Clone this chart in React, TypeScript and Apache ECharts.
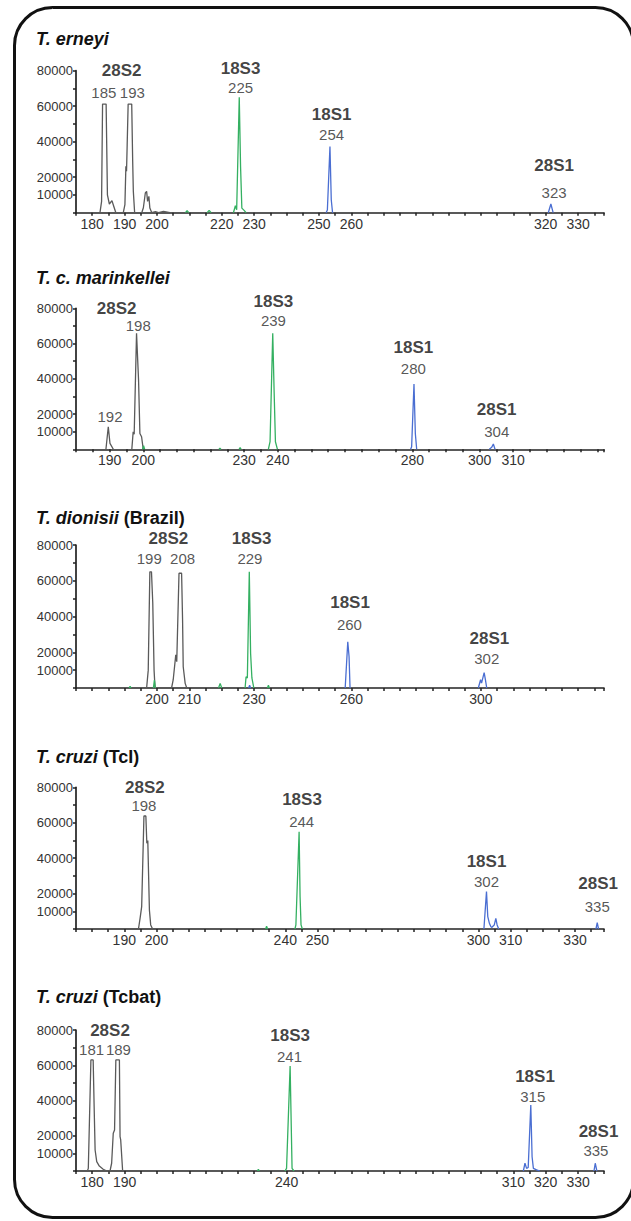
import React, { useEffect, useRef } from 'react';
import * as echarts from 'echarts';

const FONT = '"Liberation Sans", Arial, Helvetica, sans-serif';

// y-axis tick labels that are printed
const yTickLabels = [10000, 20000, 40000, 60000, 80000];

// printed x tick labels per panel
const erneyiTicks = [180, 190, 200, 220, 230, 250, 260, 320, 330];
const marinkelleiTicks = [190, 200, 230, 240, 280, 300, 310];
const dionisiiTicks = [200, 210, 230, 260, 300];
const tciTicks = [190, 200, 240, 250, 300, 310, 330];
const tcbatTicks = [180, 190, 240, 310, 320, 330];

// traces: [size, fluorescence]; null = gap
const erneyiGray = [
  [182.4, 0], [182.9, 6400], [183.2, 61200], [184.3, 61200], [184.7, 10100], [185.3, 4900], [186.1, 6800],
  [186.5, 4500], [187.3, 0], [189.6, 0], [190.1, 4500], [190.4, 26100], [190.6, 23300], [190.8, 38300],
  [191.1, 61200], [192.2, 61200], [192.5, 28900], [192.7, 12000], [193.1, 0], [195.3, 0], [195.8, 2800],
  [196.4, 11100], [196.8, 12000], [197.1, 6400], [197.5, 9200], [197.8, 2600], [198.4, 0], [199.5, 600],
  [200.5, 0], [202, 700], [204, 0],
];
const erneyiGreen = [
  [208.8, 0], [209.3, 1200], [209.8, 0], [212, null], [215.5, 0], [216.1, 1300], [216.7, 0], [220, null],
  [223.6, 0], [224.2, 3900], [224.6, 1700], [225.4, 65000], [225.8, 26100], [226.2, 2600], [226.9, 1300], [227.5, 0],
];
const erneyiBlue = [
  [252.2, 0], [252.6, 1500], [253.4, 37300], [253.8, 7300], [254.2, 0], [300, null],
  [320.8, 0], [321.6, 4900], [322.3, 0],
];

const marinkelleiGray = [
  [188.9, 0], [189.6, 12800], [190.1, 3400], [191.1, 0], [194, null], [196.6, 0], [197.0, 10000],
  [197.3, 8500], [198.0, 65800], [198.6, 39300], [199.0, 9000], [199.5, 7100], [200.0, 0],
];
const marinkelleiGreen = [
  [199.8, 0], [200.1, 2000], [200.4, 0], [210, null], [222.5, 0], [222.8, 700], [223.1, 0], [225, null],
  [228.5, 0], [228.8, 900], [229.1, 0], [232, null], [237.2, 0], [237.7, 4300], [238.5, 65800],
  [238.9, 33600], [239.3, 4300], [239.9, 0],
];
const marinkelleiBlue = [
  [279.5, 0], [279.8, 1500], [280.5, 37000], [280.9, 9000], [281.3, 0], [290, null],
  [302.9, 0], [303.6, 1100], [304.1, 3000], [304.6, 0],
];

const dionisiiGray = [
  [196.8, 0], [197.3, 10000], [197.8, 65000], [198.3, 65000], [198.7, 47400], [199.1, 10000], [199.4, 0],
  [202, null], [204.5, 0], [205.0, 4500], [205.8, 18500], [206.1, 14700], [206.8, 64200], [207.6, 64200],
  [207.9, 38000], [208.1, 11900], [208.7, 2600], [209.2, 0],
];
const dionisiiGreen = [
  [191.4, 0], [191.7, 1000], [192, 0], [195, null], [198.9, 0], [199.2, 4500], [199.5, 0], [203, null],
  [219, 0], [219.5, 2600], [220, 0], [224, null], [227.2, 0], [227.5, 6300], [227.9, 5600], [228.5, 65000],
  [228.9, 19400], [229.3, 5600], [229.9, 0], [232, null], [234.1, 0], [234.4, 1500], [234.7, 0],
];
const dionisiiBlue = [
  [228.3, 0], [228.6, 1500], [228.9, 0], [240, null],
  [258.1, 0], [258.9, 25900], [259.3, 17500], [259.6, 0], [280, null],
  [299.2, 0], [299.9, 4600], [300.2, 2700], [301.0, 8600], [301.4, 4500], [301.8, 0],
];

const tciGray = [
  [194.4, 0], [194.9, 6000], [195.4, 12600], [196.1, 63800], [196.7, 63800], [197.0, 48400],
  [197.3, 49900], [197.8, 10700], [198.2, 2300], [198.8, 0],
];
const tciGreen = [
  [233.9, 0], [234.2, 1500], [234.5, 0], [238, null], [243.0, 0], [243.3, 2300], [244.3, 54900],
  [244.6, 18200], [244.9, 2300], [245.3, 0],
];
const tciBlue = [
  [301.7, 0], [302.5, 21100], [302.9, 7000], [303.4, 3200], [303.8, 1500], [304.1, 900], [304.9, 2200],
  [305.4, 6000], [305.8, 2300], [306.3, 0], [320, null], [336.5, 0], [336.9, 3600], [337.3, 0],
];

const tcbatGray = [
  [178.5, 0], [178.8, 1500], [179.6, 63000], [180.3, 63000], [180.6, 36500], [180.9, 11900], [181.4, 5300],
  [182.2, 2800], [183.4, 1000], [184.5, 0], [185.5, 0], [186.0, 4400], [186.5, 21400], [186.9, 23300],
  [187.3, 63000], [188.4, 63000], [188.6, 19500], [188.8, 17600], [189.4, 0],
];
const tcbatGreen = [
  [231, 0], [231.3, 1000], [231.6, 0], [235, null], [239.5, 0], [240.0, 1500], [241.1, 59600],
  [241.7, 1500], [242.3, 0],
];
const tcbatBlue = [
  [313.1, 0], [313.6, 4400], [314.1, 1500], [314.6, 2000], [315.4, 37400], [315.8, 8100], [316.2, 1500],
  [317.2, 600], [318.2, 0], [325, null], [334.9, 0], [335.3, 4400], [335.8, 0],
];

// annotations: [text, size, fluorescence, bold]
const erneyiLabels = [
  ['28S2', 189.1, 80000, true], ['185', 183.6, 68000, false], ['193', 192.4, 68000, false],
  ['18S3', 225.8, 81500, true], ['225', 225.8, 70800, false],
  ['18S1', 253.9, 55200, true], ['254', 253.9, 43900, false],
  ['28S1', 322.6, 26600, true], ['323', 322.6, 11400, false],
];
const marinkelleiLabels = [
  ['28S2', 192.1, 80000, true], ['198', 198.5, 70000, false], ['192', 190.1, 18500, false],
  ['18S3', 238.7, 83700, true], ['239', 238.7, 72800, false],
  ['18S1', 280.3, 57900, true], ['280', 280.3, 46000, false],
  ['28S1', 305.1, 22300, true], ['304', 305.1, 10000, false],
];
const dionisiiLabels = [
  ['28S2', 203.5, 83400, true], ['199', 197.6, 72600, false], ['208', 207.9, 72600, false],
  ['18S3', 229.2, 83400, true], ['229', 228.7, 72600, false],
  ['18S1', 259.6, 47900, true], ['260', 259.4, 35800, false],
  ['28S1', 302.6, 27800, true], ['302', 301.8, 16600, false],
];
const tciLabels = [
  ['28S2', 196.4, 80000, true], ['198', 196.1, 70000, false],
  ['18S3', 245.2, 73200, true], ['244', 245.1, 60600, false],
  ['18S1', 302.5, 38000, true], ['302', 302.5, 26700, false],
  ['28S1', 337.2, 25800, true], ['335', 336.9, 12600, false],
];
const tcbatLabels = [
  ['28S2', 185.5, 80000, true], ['181', 179.8, 69200, false], ['189', 188.1, 69200, false],
  ['18S3', 241.1, 76600, true], ['241', 240.9, 65200, false],
  ['18S1', 316.7, 53900, true], ['315', 316.0, 42200, false],
  ['28S1', 336.3, 22300, true], ['335', 335.5, 11900, false],
];

const panels = [
  { title: '{i|T. erneyi}', titleTop: 30, top: 70.7, height: 142, xMin: 175, xMax: 338, ticks: erneyiTicks, gray: erneyiGray, green: erneyiGreen, blue: erneyiBlue, labels: erneyiLabels },
  { title: '{i|T. c. marinkellei}', titleTop: 269, top: 308.3, height: 141, xMin: 180, xMax: 337, ticks: marinkelleiTicks, gray: marinkelleiGray, green: marinkelleiGreen, blue: marinkelleiBlue, labels: marinkelleiLabels },
  { title: '{i|T. dionisii} {n|(Brazil)}', titleTop: 509, top: 545, height: 143, xMin: 175, xMax: 338, ticks: dionisiiTicks, gray: dionisiiGray, green: dionisiiGreen, blue: dionisiiBlue, labels: dionisiiLabels },
  { title: '{i|T. cruzi} {n|(TcI)}', titleTop: 748, top: 787.3, height: 141.7, xMin: 175, xMax: 339, ticks: tciTicks, gray: tciGray, green: tciGreen, blue: tciBlue, labels: tciLabels },
  { title: '{i|T. cruzi} {n|(Tcbat)}', titleTop: 988, top: 1030, height: 141, xMin: 175, xMax: 338, ticks: tcbatTicks, gray: tcbatGray, green: tcbatGreen, blue: tcbatBlue, labels: tcbatLabels },
];

const GRAY = '#5a5a5a';
const GREEN = '#34b061';
const BLUE = '#4a6ed2';

export default function App() {
  const ref = useRef<HTMLDivElement>(null);
  useEffect(() => {
    const chart = echarts.init(ref.current as HTMLDivElement, null, { renderer: 'svg' });
    const grid: any[] = [];
    const xAxis: any[] = [];
    const yAxis: any[] = [];
    const series: any[] = [];
    const title: any[] = [];
    panels.forEach((p, i) => {
      grid.push({ left: 76, top: p.top, width: 528, height: p.height });
      title.push({
        text: p.title, left: 36, top: p.titleTop, padding: 0,
        textStyle: {
          fontFamily: FONT, fontSize: 18, fontWeight: 'bold', color: '#111',
          rich: {
            i: { fontFamily: FONT, fontSize: 18, fontWeight: 'bold', fontStyle: 'italic', color: '#111' },
            n: { fontFamily: FONT, fontSize: 18, fontWeight: 'bold', color: '#111' },
          },
        },
      });
      xAxis.push({
        type: 'value', gridIndex: i, min: p.xMin, max: p.xMax, interval: 5,
        axisLine: { show: true, onZero: false, lineStyle: { color: '#222', width: 1.7 } },
        axisTick: { show: true, length: 3, lineStyle: { color: '#222', width: 1.5 } },
        axisLabel: {
          margin: 4, color: '#333', fontSize: 14, fontFamily: FONT,
          formatter: (v: number) => (p.ticks.includes(v) ? String(v) : ''),
        },
        splitLine: { show: false },
      });
      yAxis.push({
        type: 'value', gridIndex: i, min: 0, max: 80000, interval: 10000,
        axisLine: { show: true, onZero: false, lineStyle: { color: '#222', width: 1.7 } },
        axisTick: { show: true, length: 3, lineStyle: { color: '#222', width: 1.5 } },
        axisLabel: {
          margin: 3, color: '#333', fontSize: 13, fontFamily: FONT,
          formatter: (v: number) => (yTickLabels.includes(v) ? String(v) : ''),
        },
        splitLine: { show: false },
      });
      const lineSeries = (data: any[], color: string) => ({
        type: 'line', xAxisIndex: i, yAxisIndex: i, data, symbol: 'none', showSymbol: false,
        connectNulls: false, silent: true, z: 3,
        lineStyle: { color, width: 1.3 },
      });
      series.push(lineSeries(p.gray, GRAY));
      series.push(lineSeries(p.green, GREEN));
      series.push(lineSeries(p.blue, BLUE));
      series.push({
        type: 'scatter', xAxisIndex: i, yAxisIndex: i, symbolSize: 1, clip: false, silent: true, z: 5,
        itemStyle: { color: 'transparent' },
        data: p.labels.map((l: any) => ({
          name: l[0], value: [l[1], l[2]],
          label: {
            show: true, position: 'inside', formatter: l[0], fontFamily: FONT,
            fontSize: l[3] ? 17 : 15, fontWeight: l[3] ? 'bold' : 'normal',
            color: l[3] ? '#111' : '#2b2b2b',
          },
        })),
      });
    });
    chart.setOption({
      animation: false,
      backgroundColor: '#ffffff',
      title, grid, xAxis, yAxis, series,
      graphic: [
        {
          type: 'rect', z: 100, silent: true,
          shape: { x: 14.5, y: 7.5, width: 619, height: 1210, r: 38 },
          style: { fill: 'none', stroke: '#111', lineWidth: 3 },
        },
      ],
    });
    return () => chart.dispose();
  }, []);
  return (
    <div
      ref={ref}
      style={{ position: 'absolute', left: 0, top: 0, width: 631, height: 1221, background: '#fff' }}
    />
  );
}
